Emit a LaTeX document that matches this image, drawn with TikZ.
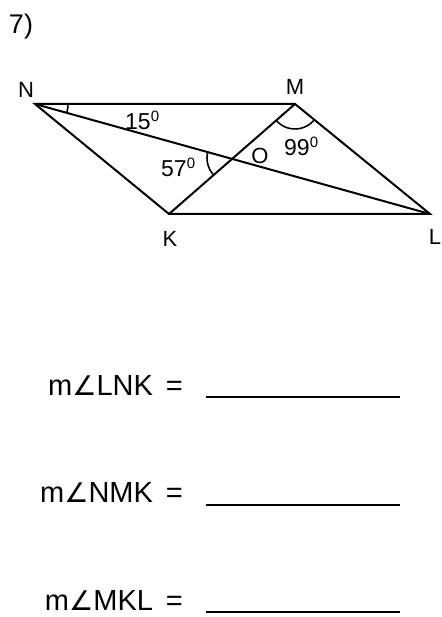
\documentclass[tikz,border=0pt]{standalone}
\usepackage{fontspec}
\setmainfont{Liberation Sans}
\newfontfamily\symfont{DejaVu Sans}
\newcommand{\ang}{{\symfont\fontsize{27}{27}\selectfont ∠}}
\newcommand{\dg}{\raisebox{0.36em}{\fontsize{15}{15}\selectfont 0}}
\begin{document}
\begin{tikzpicture}[x=1pt,y=-1pt,
  edge/.style={line width=2pt, line join=miter},
  arcline/.style={line width=1.6pt},
  vlabel/.style={font=\fontsize{22}{22}\selectfont, inner sep=0pt, anchor=base},
  deg/.style={font=\fontsize{23}{23}\selectfont, inner sep=0pt, anchor=base west},
  question/.style={font=\fontsize{29}{29}\selectfont, inner sep=0pt, anchor=base east},
  blank/.style={line width=2pt}]
\useasboundingbox (0,0) rectangle (441,617);
\node[font=\fontsize{27}{27}\selectfont, inner sep=0pt] (num) at (21,27) {7)};
\coordinate (N) at (35,104);
\coordinate (M) at (295,104);
\coordinate (K) at (169,214);
\coordinate (L) at (430,214);
\coordinate (O) at (232,158);
\draw[edge] (N) -- (M) -- (L) -- (K) -- cycle;
\draw[edge] (N) -- (L);
\draw[edge] (K) -- (M);
% angle arcs (y axis flipped: angles measured clockwise)
\draw[arcline] ([shift={(0:33)}]N) arc[start angle=0, end angle=15.6, radius=33];
\draw[arcline] ([shift={(138.9:25)}]M) arc[start angle=138.9, end angle=39.2, radius=25];
\draw[arcline] ([shift={(195.3:25)}]O) arc[start angle=195.3, end angle=138.4, radius=25];
\node[vlabel] (lN) at (26,98) {N};
\node[vlabel] (lM) at (295,95) {M};
\node[vlabel] (lK) at (170,246) {K};
\node[vlabel] (lL) at (435,244) {L};
\node[vlabel] (lO) at (260,164) {O};
\node[deg] (d15) at (125,130) {15\dg};
\node[deg] (d57) at (161,177) {57\dg};
\node[deg] (d99) at (284,156) {99\dg};
\node[question] (q1) at (183,395) {m\ang LNK \,=};
\node[question] (q2) at (183,502) {m\ang NMK \,=};
\node[question] (q3) at (183,610) {m\ang MKL \,=};
\coordinate (b1a) at (206,397); \coordinate (b1b) at (400,397);
\coordinate (b2a) at (206,505); \coordinate (b2b) at (400,505);
\coordinate (b3a) at (206,612); \coordinate (b3b) at (400,612);
\draw[blank] (b1a) -- (b1b);
\draw[blank] (b2a) -- (b2b);
\draw[blank] (b3a) -- (b3b);
\end{tikzpicture}
\end{document}
